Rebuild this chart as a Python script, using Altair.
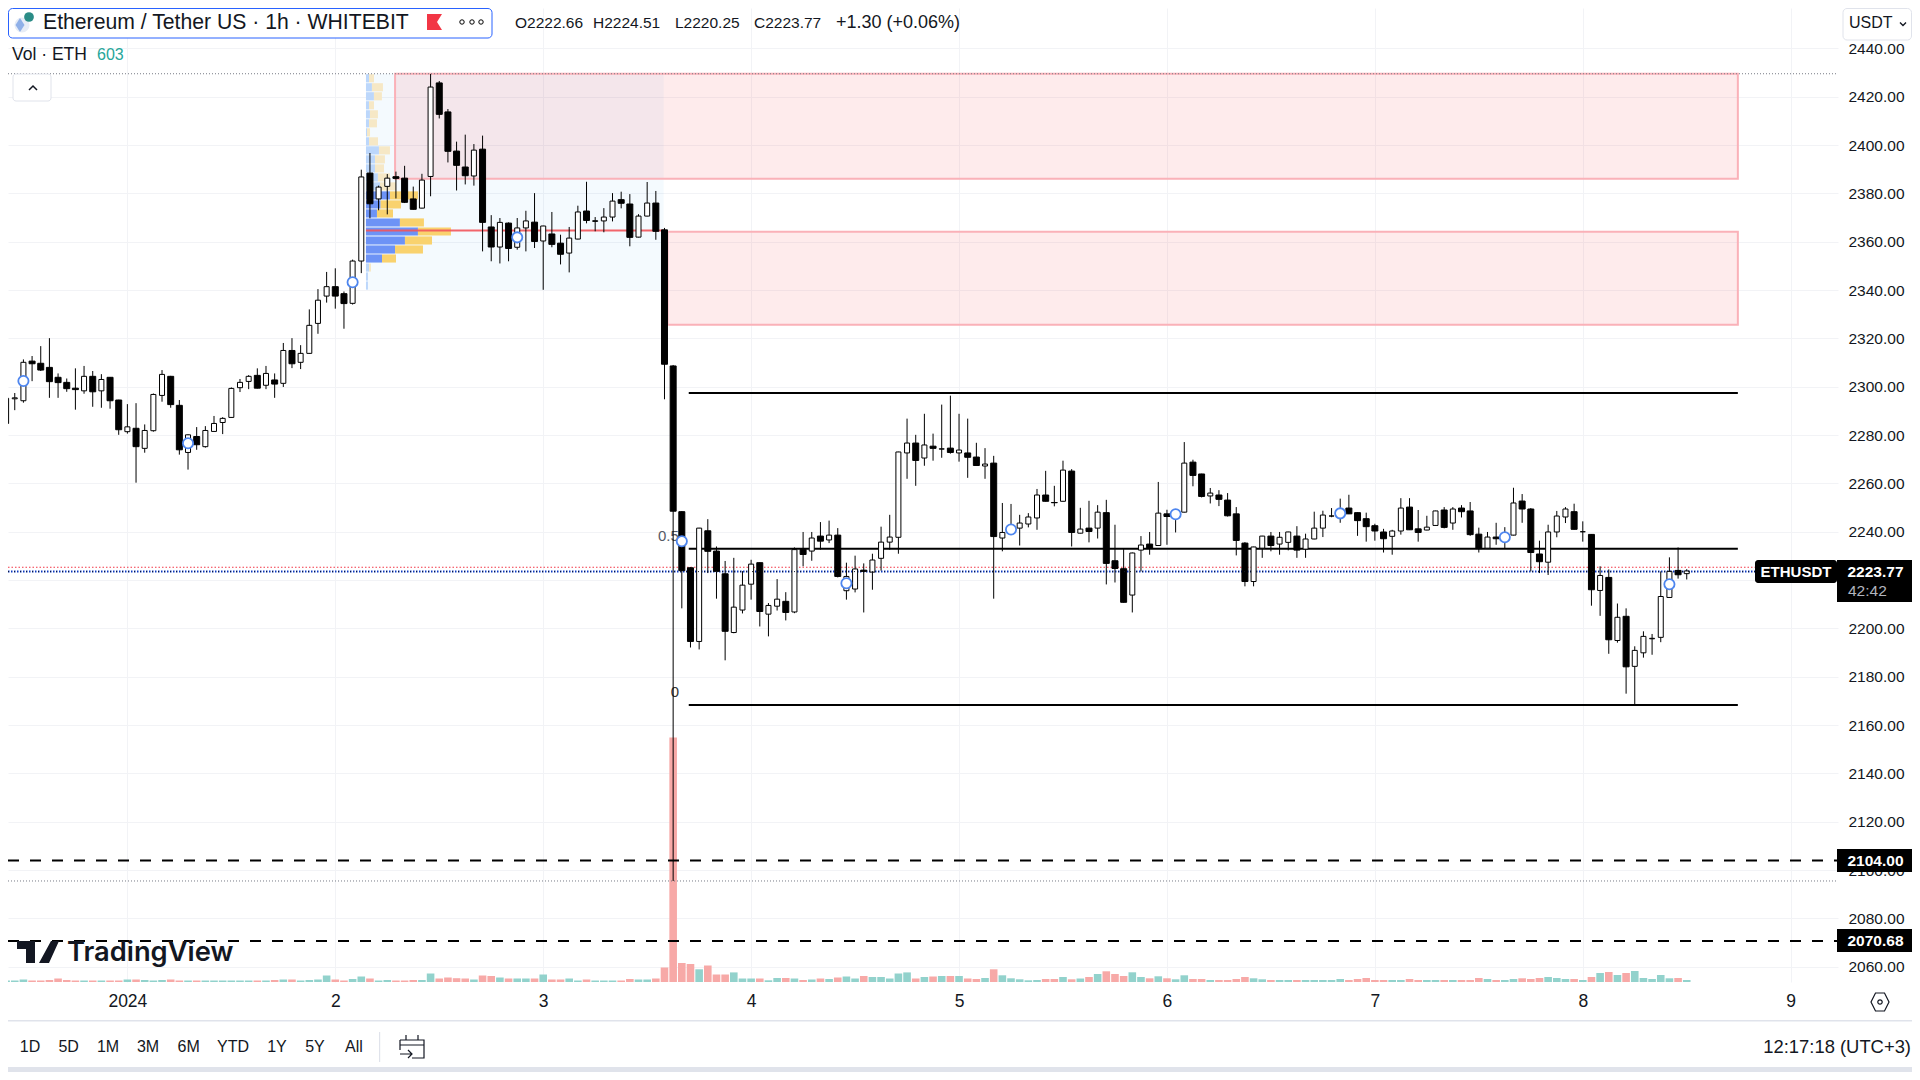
import altair as alt
import numpy as np
import pandas as pd

# ---------- data ----------
first_hour = -14  # hours since 2024-01-01 00:00 (UTC+3)
opens = [
 2284.8,2295.0,2294.2,2310.6,2309.7,2308.0,2303.9,2301.8,2299.4,2298.3,
 2304.3,2298.3,2303.9,2294.5,2281.4,2282.8,2274.5,2281.8,2296.4,2304.3,
 2292.3,2272.8,2279.4,2275.2,2281.5,2285.2,2287.3,2299.6,2302.2,2304.7,
 2300.6,2302.8,2301.4,2315.0,2310.1,2313.8,2326.2,2337.5,2341.4,2338.5,
 2334.5,2352.0,2388.4,2377.7,2382.9,2386.9,2386.3,2377.7,2373.9,2387.0,
 2425.7,2413.7,2397.5,2390.9,2387.2,2398.3,2366.1,2357.8,2367.7,2357.7,
 2365.7,2368.1,2360.3,2363.2,2359.4,2355.3,2361.1,2372.7,2368.4,2368.6,
 2370.2,2377.4,2375.6,2361.9,2370.6,2376.0,2364.9,2308.6,2248.3,2225.1,
 2194.6,2240.4,2232.0,2222.6,2198.3,2207.6,2218.3,2227.2,2205.9,2209.2,
 2211.2,2206.8,2232.7,2232.0,2238.2,2236.6,2238.6,2215.6,2216.3,2224.1,
 2223.3,2229.0,2235.7,2237.7,2272.6,2276.7,2270.5,2275.4,2274.2,2274.6,
 2272.6,2272.6,2270.9,2267.2,2268.4,2237.4,2239.7,2241.5,2243.2,2245.7,
 2255.2,2252.1,2252.6,2265.1,2239.4,2241.5,2241.5,2247.9,2228.0,2224.7,
 2213.8,2232.4,2234.9,2234.3,2247.4,2246.3,2248.1,2268.8,2263.9,2254.8,
 2255.2,2253.1,2247.4,2235.3,2219.4,2233.2,2238.2,2234.9,2235.6,2238.2,
 2232.8,2237.0,2241.5,2246.5,2246.0,2249.8,2247.9,2245.4,2242.5,2239.9,
 2238.1,2240.3,2250.2,2241.2,2240.7,2242.6,2249.0,2243.6,2249.8,2248.6,
 2239.0,2233.2,2237.8,2236.5,2238.6,2252.7,2249.4,2230.8,2227.4,2239.9,
 2246.1,2248.3,2240.0,2238.9,2215.7,2221.1,2195.0,2205.0,2184.3,2189.9,
 2195.7,2196.3,2212.8,2224.0,2222.66]
highs = [
 2304.8,2297.4,2311.3,2312.7,2316.8,2320.1,2305.5,2303.4,2307.6,2308.6,
 2306.5,2305.2,2304.0,2294.6,2292.8,2293.2,2284.4,2297.2,2306.9,2304.5,
 2294.5,2280.3,2283.3,2283.7,2287.9,2287.4,2299.7,2303.2,2304.8,2307.6,
 2308.6,2305.5,2318.1,2320.1,2317.2,2332.0,2340.4,2347.5,2349.0,2339.4,
 2352.6,2389.8,2396.7,2383.2,2388.0,2389.0,2391.4,2382.8,2388.1,2429.4,
 2426.5,2414.9,2401.4,2404.3,2400.4,2403.9,2371.0,2369.8,2368.0,2369.8,
 2372.8,2380.1,2366.6,2372.3,2362.9,2366.1,2374.9,2384.8,2370.2,2373.9,
 2380.1,2380.7,2379.7,2371.4,2384.7,2381.0,2365.7,2309.0,2248.5,2225.3,
 2241.6,2245.2,2233.9,2227.9,2229.2,2223.7,2228.4,2227.3,2210.5,2220.4,
 2215.0,2233.5,2239.9,2239.9,2244.0,2244.6,2241.5,2227.2,2230.1,2226.9,
 2230.9,2242.1,2247.0,2273.1,2286.8,2280.1,2288.8,2280.6,2292.6,2296.3,
 2288.8,2286.8,2276.8,2274.6,2271.4,2251.9,2251.5,2247.0,2247.7,2257.7,
 2265.2,2259.0,2269.4,2265.9,2249.9,2252.8,2251.0,2253.2,2242.9,2232.8,
 2231.4,2238.2,2239.9,2260.6,2249.1,2249.0,2277.1,2269.8,2264.0,2258.1,
 2257.2,2256.0,2250.2,2235.7,2233.8,2238.3,2239.9,2239.9,2240.0,2242.3,
 2239.2,2248.3,2248.7,2249.8,2253.7,2255.3,2248.0,2247.9,2243.3,2241.2,
 2240.8,2253.9,2253.9,2249.0,2246.6,2248.7,2250.2,2250.2,2251.0,2252.3,
 2241.7,2239.9,2243.7,2241.9,2258.2,2255.6,2249.8,2236.3,2242.9,2248.6,
 2250.2,2251.6,2244.3,2239.0,2225.7,2224.4,2210.3,2208.3,2192.6,2198.8,
 2197.7,2223.6,2229.4,2233.5,2224.51]
lows = [
 2284.5,2290.3,2293.4,2302.3,2306.5,2295.4,2295.4,2297.9,2290.5,2297.1,
 2291.7,2291.3,2290.9,2280.1,2280.6,2260.3,2272.7,2281.4,2293.8,2291.3,
 2271.9,2265.7,2273.9,2274.8,2281.4,2280.4,2287.2,2297.8,2299.0,2299.3,
 2299.0,2295.4,2299.9,2307.7,2307.3,2313.7,2321.9,2334.8,2332.3,2324.0,
 2334.0,2347.0,2369.7,2373.0,2371.3,2377.9,2376.0,2373.3,2373.8,2378.8,
 2411.0,2392.8,2381.2,2383.7,2383.2,2356.0,2351.9,2351.0,2351.9,2356.7,
 2356.0,2357.4,2340.1,2357.7,2350.6,2347.3,2361.0,2367.6,2364.3,2363.9,
 2368.4,2373.8,2358.1,2361.8,2370.5,2360.8,2294.8,2095.5,2208.3,2192.1,
 2191.3,2222.9,2212.3,2186.8,2198.0,2206.2,2211.9,2200.8,2196.7,2207.4,
 2203.3,2206.3,2225.7,2228.0,2232.6,2235.3,2221.1,2211.9,2214.9,2206.6,
 2216.0,2223.9,2232.6,2230.9,2261.9,2259.0,2267.3,2269.4,2270.6,2272.3,
 2269.0,2262.3,2267.3,2261.9,2212.3,2231.9,2239.4,2234.3,2241.8,2240.8,
 2252.5,2250.5,2252.5,2233.9,2239.3,2235.6,2237.2,2218.2,2219.0,2210.7,
 2206.6,2223.6,2230.5,2234.2,2234.6,2239.7,2248.0,2258.8,2254.2,2251.7,
 2250.6,2246.3,2230.2,2217.4,2217.4,2229.2,2231.9,2230.5,2232.3,2229.2,
 2229.2,2236.9,2237.8,2246.0,2243.7,2247.3,2238.3,2235.9,2236.3,2231.4,
 2230.5,2238.8,2240.7,2235.9,2240.6,2242.5,2241.4,2240.8,2245.9,2238.3,
 2231.4,2233.1,2234.6,2233.0,2238.5,2243.7,2223.6,2222.9,2222.1,2237.7,
 2243.6,2240.9,2235.9,2209.4,2205.2,2189.5,2194.1,2173.0,2168.4,2187.9,
 2189.1,2194.3,2212.7,2220.6,2220.25]
closes = [
 2295.2,2295.4,2310.1,2309.5,2306.9,2302.1,2301.7,2299.2,2298.8,2304.3,
 2297.9,2303.0,2294.2,2282.2,2283.4,2275.2,2281.9,2296.8,2305.1,2292.6,
 2273.9,2280.1,2276.0,2281.9,2284.8,2286.9,2299.3,2301.8,2304.3,2299.4,
 2305.5,2301.1,2315.0,2309.5,2313.8,2325.4,2335.8,2341.4,2337.5,2334.4,
 2352.0,2386.8,2375.7,2382.6,2386.3,2386.2,2376.3,2373.4,2385.5,2424.0,
 2412.7,2397.4,2391.6,2387.3,2397.9,2368.0,2357.8,2368.0,2357.2,2365.7,
 2368.6,2360.1,2366.5,2358.9,2354.8,2361.5,2372.3,2368.8,2368.7,2370.2,
 2376.8,2375.9,2361.8,2370.6,2376.0,2364.3,2309.3,2248.5,2223.9,2194.6,
 2241.5,2231.9,2223.6,2198.8,2208.8,2217.9,2226.6,2207.0,2209.5,2212.1,
 2206.6,2232.6,2230.6,2237.4,2236.1,2238.6,2221.5,2221.5,2224.6,2223.6,
 2228.3,2235.7,2237.8,2273.0,2276.7,2269.5,2275.9,2274.5,2274.3,2272.8,
 2273.8,2270.8,2267.4,2268.0,2238.0,2239.7,2242.2,2243.6,2246.1,2255.2,
 2252.6,2252.0,2265.5,2239.7,2241.1,2240.1,2248.1,2226.9,2224.8,2210.8,
 2231.2,2234.5,2233.1,2247.7,2246.3,2248.5,2268.4,2263.3,2254.6,2256.0,
 2253.4,2246.6,2236.4,2219.4,2233.7,2238.2,2234.3,2237.7,2239.9,2232.4,
 2237.0,2241.5,2246.9,2246.5,2248.0,2247.4,2244.6,2242.1,2240.3,2237.1,
 2240.3,2249.8,2240.8,2239.7,2241.9,2248.6,2241.8,2249.4,2248.3,2238.8,
 2233.0,2237.8,2237.1,2237.9,2251.9,2249.4,2231.4,2227.6,2239.9,2246.5,
 2249.4,2241.0,2240.0,2216.0,2221.9,2195.3,2204.6,2184.1,2190.9,2196.7,
 2195.9,2213.2,2223.6,2222.2,2223.77]
volumes = [
 450,450,750,450,450,600,1050,600,450,450,
 450,450,450,450,750,750,600,450,600,750,
 450,450,450,450,450,450,450,450,450,450,
 450,600,750,750,450,600,750,1950,750,450,
 900,1650,1050,450,600,450,450,600,600,2550,
 1050,1350,1140,1050,750,1950,1800,1350,1050,1050,
 1050,1050,2250,750,750,1050,450,750,450,450,
 450,450,900,750,750,1050,4350,73350,5700,5400,
 3810,4950,2250,2250,2880,1050,1050,1050,510,1200,
 1200,1050,600,750,1050,900,1350,1650,1050,1800,
 1500,1500,1050,2550,2880,1050,1500,1650,1800,1800,
 1800,1050,900,1200,3810,2010,1110,810,510,600,
 900,900,1500,810,1050,1500,2400,3210,2400,1800,
 2910,1500,1110,1710,1110,810,2010,900,900,600,
 600,600,900,1500,1110,810,600,600,600,600,
 600,600,600,600,900,600,900,1200,600,600,
 600,600,900,600,600,600,600,600,600,600,
 1200,900,600,600,900,1110,900,1200,1500,1200,
 900,900,600,1500,2700,3000,2100,2700,3300,1200,
 900,2100,1110,1200,603]

# volume profile (up / down volume of each row, top row first, in hour-widths)
vp_up = [.35,.69,.92,.35,.46,.35,.12,.35,1.5,1.04,1.04,1.38,1.62,2.77,1.69,1.27,3.92,6.0,4.5,3.35,1.85,.35,.23,.23]
vp_down = [.58,1.27,.92,.58,.92,.92,.35,1.04,1.27,1.15,1.04,1.38,1.85,3.23,2.35,1.85,2.77,3.81,3.12,3.23,1.62,.23,0,0]
vp_value_area = [13, 20]
vp_top, vp_bottom, vp_left, vp_right, vp_poc = 2429.5, 2340.0, 27.54, 61.9, 2364.6

marker_hours = [-12, 7, 26, 45, 64, 83, 102, 121, 140, 159, 178]
marker_prices = [2302.4, 2276.6, 2343.2, 2361.8, 2236.1, 2218.7, 2240.9, 2247.2, 2247.6, 2237.7, 2218.3]

box_x0 = [30.9, 62.35]
box_x1 = [185.9, 185.9]
box_top = [2429.5, 2364.1]
box_bottom = [2386.0, 2325.6]

level_prices = [2297.4, 2233.0, 2168.3]
level_start, level_end = 64.8, 185.9
dashed_prices = [2104.0, 2070.68]
fib_dots = [2429.5, 2095.5]
last_price, prev_price = 2223.5, 2225.3

price_ticks = list(range(2060, 2441, 20))
day_ticks = list(range(0, 193, 24))
x_domain = [-13.78, 197.46]
y_domain = [2053.7, 2456.7]
vol_domain = [0, 292200]

ohlc_parts = ['O2222.66', 'H2224.51', 'L2220.25', 'C2223.77']
ohlc_x = [515, 593, 675, 754]

# ---------- frames ----------
hours = [first_hour + i for i in range(len(opens))]
df = pd.DataFrame(dict(h=hours, o=opens, hi=highs, lo=lows, c=closes, v=volumes))
df['top'] = df[['o', 'c']].max(axis=1)
df['bot'] = df[['o', 'c']].min(axis=1)
df['up'] = df.c >= df.o
df['col'] = np.where(df.up, '#92d2cc', '#f7a9a7')

rows = len(vp_up)
step = (vp_top - vp_bottom) / rows
vp = pd.DataFrame(dict(i=range(rows), up=vp_up, dn=vp_down))
vp['y0'] = vp_top - vp.i * step - step * 0.05
vp['y1'] = vp_top - (vp.i + 1) * step + step * 0.05
vp['x0'] = vp_left
vp['x1'] = vp_left + vp.up
vp['x2'] = vp.x1 + vp.dn
inside = (vp.i >= vp_value_area[0]) & (vp.i <= vp_value_area[1])
vp['cu'] = np.where(inside, '#6d93f6', '#bcd7fb')
vp['cd'] = np.where(inside, '#f9d26e', '#f6e8c6')

boxes = pd.DataFrame(dict(x0=box_x0, x1=box_x1, t=box_top, b=box_bottom))
markers = pd.DataFrame(dict(h=marker_hours, p=marker_prices))
levels = pd.DataFrame(dict(p=level_prices, x0=level_start, x1=level_end))
dashed = pd.DataFrame(dict(p=dashed_prices, x0=x_domain[0], x1=x_domain[1]))
fibs = pd.DataFrame(dict(p=fib_dots, x0=x_domain[0], x1=x_domain[1]))
one = pd.DataFrame({'_': [0]})

FONT = 'Liberation Sans'
INK = '#131722'

def X(f, **kw):
    return alt.X(f, scale=alt.Scale(domain=x_domain, nice=False, zero=False, padding=0), title=None, **({'axis': None} | kw))

def Y(f, dom=y_domain, **kw):
    return alt.Y(f, scale=alt.Scale(domain=dom, nice=False, zero=False, padding=0), title=None, **({'axis': None} | kw))

# ---------- plot layers ----------
axis_x = alt.Axis(values=day_ticks, labelExpr="datum.value == 0 ? '2024' : '' + (datum.value / 24 + 1)",
                  grid=True, gridColor='#f2f3f6', domain=False, ticks=False, labelPadding=10,
                  labelFont=FONT, labelFontSize=17.5, labelColor=INK, labelOverlap=False,
                  labelFlush=False, title=None)
axis_y = alt.Axis(orient='right', values=price_ticks, format='.2f', grid=True, gridColor='#f2f3f6',
                  domain=False, ticks=False, labelPadding=10, labelFont=FONT, labelFontSize=15.5,
                  labelColor=INK, labelOverlap=False, labelFlush=False, labelAlign='left',
                  labelBaseline='middle', title=None)

def hline(price, **mark):
    frame = pd.DataFrame(dict(p=[price], x0=[x_domain[0]], x1=[x_domain[1]]))
    return alt.Chart(frame).mark_rule(**mark).encode(x=X('x0:Q'), x2='x1:Q', y=Y('p:Q'))

vp_df = pd.DataFrame(dict(x0=[vp_left], x1=[vp_right], t=[vp_top], b=[vp_bottom]))
layers = [
    alt.Chart(vp_df).mark_rect(fill='#2196f3', fillOpacity=0.05).encode(
        x=X('x0:Q', axis=axis_x), x2='x1:Q', y=Y('t:Q', axis=axis_y), y2='b:Q'),
    alt.Chart(df).mark_bar(size=7.6).encode(
        x=X('h:Q'), y=Y('v:Q', dom=vol_domain, stack=None), color=alt.Color('col:N', scale=None)),
    alt.Chart(vp).mark_rect().encode(
        x=X('x0:Q'), x2='x1:Q', y=Y('y0:Q'), y2='y1:Q', color=alt.Color('cu:N', scale=None)),
    alt.Chart(vp).mark_rect().encode(
        x=X('x1:Q'), x2='x2:Q', y=Y('y0:Q'), y2='y1:Q', color=alt.Color('cd:N', scale=None)),
    alt.Chart(boxes).mark_rect(fill='#f23645', fillOpacity=0.1, stroke='#fab1b8', strokeWidth=2).encode(
        x=X('x0:Q'), x2='x1:Q', y=Y('t:Q'), y2='b:Q'),
    alt.Chart(pd.DataFrame(dict(p=[vp_poc], x0=[vp_left], x1=[vp_right]))).mark_rule(
        color='#f2545b', strokeWidth=2, opacity=0.9).encode(x=X('x0:Q'), x2='x1:Q', y=Y('p:Q')),
    alt.Chart(fibs).mark_rule(color='#787b86', strokeWidth=1, strokeDash=[1, 2]).encode(
        x=X('x0:Q'), x2='x1:Q', y=Y('p:Q')),
]

def pt(v):
    return v - 8

def text(s, x, y, size=15, color=INK, align='left', weight='normal', font=FONT):
    return alt.Chart(one).mark_text(text=s, align=align, baseline='middle', fontSize=size, color=color,
                                    fontWeight=weight, font=font).encode(x=alt.value(pt(x)), y=alt.value(pt(y)))

def rect(x0, y0, x1, y1, fill='white', stroke=None, radius=0, sw=1):
    kw = dict(fill=fill, cornerRadius=radius)
    if stroke:
        kw.update(stroke=stroke, strokeWidth=sw)
    return alt.Chart(one).mark_rect(**kw).encode(
        x=alt.value(pt(x0)), x2=alt.value(pt(x1)), y=alt.value(pt(y0)), y2=alt.value(pt(y1)))

def icon(path, x, y, fill=None, stroke=None, sw=1.3):
    kw = dict(shape=path, size=4, opacity=1)
    if fill:
        kw.update(filled=True, fill=fill, strokeWidth=0)
    else:
        kw.update(filled=False, fill='transparent', stroke=stroke, strokeWidth=sw)
    return alt.Chart(one).mark_point(**kw).encode(x=alt.value(pt(x)), y=alt.value(pt(y)))

def dot(x, y, d, fill='white', stroke='black', sw=1.0):
    return alt.Chart(one).mark_point(shape='circle', size=3.1416 * d * d / 4, filled=True, fill=fill,
                                     stroke=stroke, strokeWidth=sw, opacity=1).encode(
        x=alt.value(pt(x)), y=alt.value(pt(y)))

layers += [
    text('0.5', 658, 536, 15, '#555a66'),
    text('0', 675, 692, 15, '#333333', align='center'),
    alt.Chart(levels).mark_rule(color='black', strokeWidth=2).encode(x=X('x0:Q'), x2='x1:Q', y=Y('p:Q')),
    hline(prev_price, color='#f23645', strokeWidth=1, strokeDash=[1.5, 2]),
    hline(last_price, color='#0d3ac4', strokeWidth=2, strokeDash=[1.5, 1.5]),
    alt.Chart(df).mark_rule(color='black', strokeWidth=1).encode(x=X('h:Q'), y=Y('lo:Q'), y2='hi:Q'),
    alt.Chart(df[df.up]).mark_bar(size=5, fill='white', stroke='black', strokeWidth=1).encode(
        x=X('h:Q'), y=Y('top:Q'), y2='bot:Q'),
    alt.Chart(df[~df.up]).mark_bar(size=6, fill='black', stroke='black', strokeWidth=1).encode(
        x=X('h:Q'), y=Y('top:Q'), y2='bot:Q'),
    hline(last_price, color='#131722', strokeWidth=1, strokeDash=[1, 5]),
    alt.Chart(dashed).mark_rule(color='black', strokeWidth=2, strokeDash=[11, 11]).encode(
        x=X('x0:Q'), x2='x1:Q', y=Y('p:Q')),
    alt.Chart(markers).mark_point(shape='circle', size=105, filled=True, fill='white', stroke='#4e86ef',
                                  strokeWidth=1.8, opacity=1).encode(x=X('h:Q'), y=Y('p:Q')),
]

# ---------- chrome ----------
ui = [
    # header
    rect(8.5, 8.5, 492, 38, 'white', '#2962ff', 4, 1),
    dot(22, 25, 17, '#e6ecf6', '#e6ecf6', 0),
    icon('M0 -7 L4.5 0 L0 7 L-4.5 0 Z', 20, 25, fill='#8fb0e8'),
    dot(29, 17, 11, '#2a8c86', '#2a8c86', 0),
    text('Ethereum / Tether US · 1h · WHITEBIT', 43, 23, 21.2),
    icon('M0 0 H15 L10 8 L15 16 H0 Z', 427, 14, fill='#f23645'),
    dot(462, 22, 5), dot(472, 22, 5), dot(481, 22, 5),
    text('+1.30 (+0.06%)', 836, 23, 18),
    text('Vol · ETH', 12, 55, 17.5),
    text('603', 97, 55, 16, '#26a69a'),
    # collapse button
    rect(13, 74, 51, 101, 'white', '#e0e3eb', 3, 1),
    icon('M-4 3 L0 -1 L4 3', 33, 87, stroke=INK, sw=1.5),
    # currency button
    rect(1843, 8.5, 1911.5, 40, 'white', '#e0e3eb', 4, 1),
    text('USDT', 1849, 23, 16),
    icon('M-3 -1.5 L0 1.5 L3 -1.5', 1903, 24, stroke=INK, sw=1.4),
    # watermark
    icon('M0 0 H18 V22 H9 V8 H0 Z M34 0 H42 L32 22 H22 Z', 17, 941, fill=INK),
    dot(27.5, 945, 8, INK, INK, 0),
    text('TradingView', 67, 953, 27.3, INK, weight=600, font='Inter'),
    # price labels
    rect(1755, 560, 1837, 583, 'black', None, 3),
    text('ETHUSDT', 1796, 572, 15, 'white', 'center', 'bold'),
    rect(1837, 560, 1912, 602, 'black'),
    text('2223.77', 1875.5, 572, 15.5, 'white', 'center', 'bold'),
    text('42:42', 1848, 591, 15.5, '#b2b5be'),
    rect(1837, 849, 1912, 872, 'black'),
    text('2104.00', 1875.5, 861, 15.5, 'white', 'center', 'bold'),
    rect(1837, 929, 1912, 952, 'black'),
    text('2070.68', 1875.5, 941, 15.5, 'white', 'center', 'bold'),
    # axis corner
    icon('M-4.5 -9 H4.5 L9 0 L4.5 9 H-4.5 L-9 0 Z', 1880, 1002, stroke=INK, sw=1.2),
    dot(1880, 1002, 5, 'white', INK, 1.2),
    # bottom bar
    rect(0, 1020, 1920, 1021.5, '#e0e3eb'),
    rect(0, 1067, 1920, 1072, '#e0e3eb'),
    rect(379, 1032, 380.2, 1062, '#e0e3eb'),
    icon('M-12 -7 H12 V11 H0 M-12 -7 V3 M-12 -2 H12 M-6 -12 V-7 M6 -12 V-7 M-12 7 H0 M-4 3 L0 7 L-4 11', 412, 1047, stroke=INK, sw=1.2),
    text('12:17:18 (UTC+3)', 1911, 1047, 18.4, INK, 'right'),
]
for part, px in zip(ohlc_parts, ohlc_x):
    ui.append(text(part, px, 23, 15.5))
for label, cx in zip(['1D', '5D', '1M', '3M', '6M', 'YTD', '1Y', '5Y', 'All'],
                     [30, 68.6, 108, 148, 188.6, 233, 277, 315, 354]):
    ui.append(text(label, cx, 1047, 16, INK, 'center'))

chart = alt.layer(*layers, *ui).resolve_scale(y='independent').resolve_axis(x='independent').properties(
    width=1830, height=974, background='white',
    padding={'left': 0, 'top': 0, 'right': 74, 'bottom': 90},
    autosize=alt.AutoSizeParams(type='none'),
).configure_view(stroke=None)

chart.save("out.html", embed_options={"renderer": "svg", "actions": False})
